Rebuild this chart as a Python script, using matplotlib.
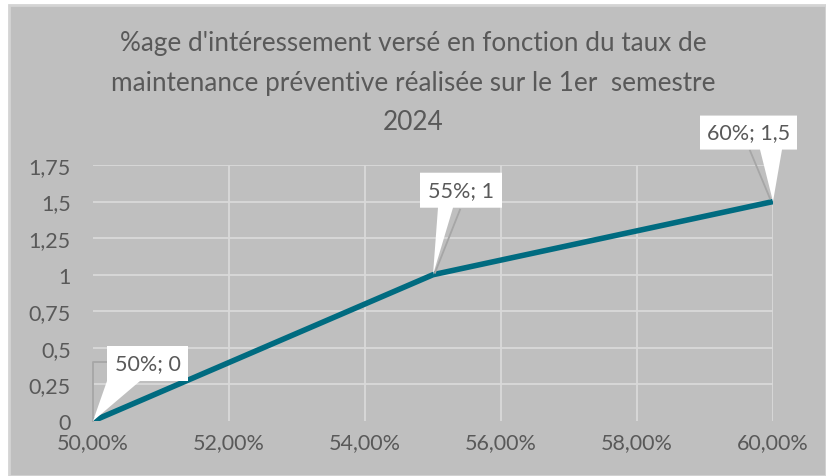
import matplotlib
matplotlib.use("Agg")
import matplotlib.pyplot as plt
import matplotlib.transforms as mtransforms
from matplotlib.patches import Rectangle, Polygon
from matplotlib.ticker import FuncFormatter, MultipleLocator

# data
taux = [0.50, 0.55, 0.60]
interessement = [0.0, 1.0, 1.5]
labels = ["50%; 0", "55%; 1", "60%; 1,5"]
title = ("%age d'intéressement versé en fonction du taux de\n"
         "maintenance préventive réalisée sur le 1er  semestre\n2024")

# callout geometry in pixels relative to the point: box (x0, x1, y0, y1), wedge base (x0, x1), leader line
CALLOUTS = [
    dict(box=(14, 95, 40, 75), base=(14, 47), lead=[(0, 0), (0, 59), (14, 59)]),
    dict(box=(-13, 69, 67, 102), base=(5, 20), lead=[(27, 65), (2, 2)]),
    dict(box=(-73, 24, 52, 86), base=(-13, 9), lead=[(-23, 51), (-3, 3)]),
]

TXT = "#595959"
LINE = "#006b80"
BG = "#bfbfbf"
GRID = "#d9d9d9"

plt.rcParams["font.family"] = ["Lato", "DejaVu Sans"]

W, H = 826, 477
fig = plt.figure(figsize=(W / 100, H / 100), dpi=100)
fig.patch.set_facecolor("white")
fig.add_artist(Rectangle((9 / W, 0), 1 - 9 / W, 1 - 6 / H, transform=fig.transFigure,
                         facecolor=BG, edgecolor="#d4d4d4", lw=2.0, zorder=0))

ax = fig.add_axes([93 / W, 55 / H, 680 / W, 256 / H])
ax.set_facecolor("none")
ax.plot(taux, interessement, color=LINE, lw=4, solid_capstyle="butt", zorder=3)
ax.set_xlim(0.5, 0.6)
ax.set_ylim(0, 1.75)
ax.xaxis.set_major_locator(MultipleLocator(0.02))
ax.yaxis.set_major_locator(MultipleLocator(0.25))
ax.xaxis.set_major_formatter(FuncFormatter(lambda v, p: f"{v*100:.2f}%".replace(".", ",")))
ax.yaxis.set_major_formatter(FuncFormatter(lambda v, p: f"{v:g}".replace(".", ",")))
for s in ax.spines.values():
    s.set_visible(False)
ax.tick_params(length=0, labelsize=15.5, colors=TXT)
ax.tick_params(axis="y", pad=16)
ax.tick_params(axis="x", pad=8)
for v in [0.52, 0.54, 0.56, 0.58, 0.60]:
    ax.axvline(v, color=GRID, lw=1.3, zorder=1)
for v in [0.25, 0.5, 0.75, 1.0, 1.25, 1.5, 1.75]:
    ax.axhline(v, color=GRID, lw=1.3, zorder=1)

fig.text(0.5, 1 - 83 / H, title, ha="center", va="center", fontsize=18.8,
         color=TXT, linespacing=1.7)

fig.canvas.draw()
for x, y, lab, c in zip(taux, interessement, labels, CALLOUTS):
    px, py = ax.transData.transform((x, y))
    tr = mtransforms.Affine2D().translate(px, py)
    bx0, bx1, by0, by1 = c["box"]
    lx, ly = zip(*c["lead"])
    ax.plot(lx, ly, color="#a6a6a6", lw=1.3, transform=tr, zorder=4, clip_on=False)
    poly = [(bx0, by0), (bx0, by1), (bx1, by1), (bx1, by0),
            (c["base"][1], by0), (0, 0), (c["base"][0], by0)]
    ax.add_patch(Polygon(poly, closed=True, facecolor="white", edgecolor="none",
                         transform=tr, zorder=5, clip_on=False))
    ax.text((bx0 + bx1) / 2, (by0 + by1) / 2, lab, ha="center", va="center",
            fontsize=15.5, color=TXT, transform=tr, zorder=6)

fig.savefig("out.png", dpi=100)
